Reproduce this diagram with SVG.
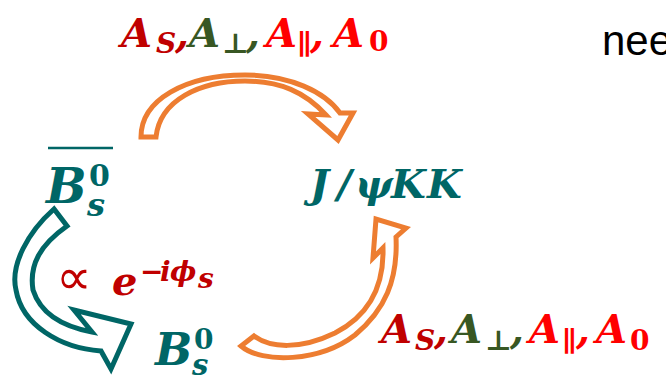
<svg xmlns="http://www.w3.org/2000/svg" width="666" height="382" viewBox="0 0 666 382">
<style>
.m{font-family:"DejaVu Serif","Liberation Serif",serif;font-weight:bold;font-style:italic}
.up{font-style:normal}
.teal{fill:#006666}
.dr{fill:#C00000}
.gr{fill:#385723}
.rd{fill:#FF0000}
.arr{fill:none;stroke-width:5;stroke-linejoin:miter;stroke-miterlimit:10}
.or{stroke:#ED7D31}
.tl{stroke:#006666}
</style>
<rect width="666" height="382" fill="#FFFFFF"/>
<g id="connectors">
<path id="arc-top" class="arr or" d="M141,137 C141,100 185,75 245,75 C290,75 325,92 340,113 L353,113 L338,140 L308,114 L326,115 C305,92 280,81 245,81 C200,81 160,100 156,137 Z"/>
<path id="arc-mix" class="arr tl" d="M54,209 C28,232 10,265 16,290 C22,325 60,348 101,351 L111,369 L131,324 L74,310 L92,332 C60,326 40,312 33,290 C29,265 40,245 67,226 Z"/>
<path id="arc-bottom" class="arr or" d="M241,346 C262,364 320,362 355,335 C385,310 398,280 396,237 L406,228 L376,219 L373,258 L383,248 C384,285 370,315 335,333 C300,350 270,348 254,336 Z"/>
</g>
<g id="label-top" class="m">
<text x="121" y="47" font-size="40" class="dr">A</text>
<text x="156" y="53" font-size="28" class="dr">S</text>
<text x="175" y="47" font-size="40" class="dr">,</text>
<text x="189" y="47" font-size="40" class="gr">A</text>
<text x="222" y="53" font-size="28" class="gr up">⊥</text>
<text x="246" y="47" font-size="40" class="gr">,</text>
<text x="266" y="47" font-size="40" class="rd">A</text>
<text x="297" y="54" font-size="28" class="rd up">∥</text>
<text x="310" y="47" font-size="40" class="rd">,</text>
<text x="333" y="47" font-size="40" class="rd">A</text>
<text x="369" y="51" font-size="28" class="rd up">0</text>
</g>
<g id="label-bottom" class="m">
<text x="381" y="343" font-size="40" class="dr">A</text>
<text x="415" y="350" font-size="28" class="dr">S</text>
<text x="434" y="343" font-size="40" class="dr">,</text>
<text x="451" y="343" font-size="40" class="gr">A</text>
<text x="485" y="350" font-size="28" class="gr up">⊥</text>
<text x="510" y="343" font-size="40" class="gr">,</text>
<text x="529" y="343" font-size="40" class="rd">A</text>
<text x="562" y="351" font-size="28" class="rd up">∥</text>
<text x="576" y="343" font-size="40" class="rd">,</text>
<text x="596" y="343" font-size="40" class="rd">A</text>
<text x="630" y="350" font-size="28" class="rd up">0</text>
</g>
<g id="node-need">
<text x="602" y="55" font-family="Liberation Sans, Arial, sans-serif" font-size="42" fill="#000000">nee</text>
</g>
<g id="node-bsbar" class="m teal">
<line x1="48" y1="148" x2="113" y2="148" stroke="#006666" stroke-width="2.5"/>
<text x="46" y="203" font-size="48">B</text>
<text x="89" y="186" font-size="30" class="up">0</text>
<text x="87" y="216" font-size="32">s</text>
</g>
<g id="node-jpsikk" class="m teal">
<text y="198" font-size="40"><tspan x="310">J</tspan><tspan x="337">/</tspan><tspan x="355">ψ</tspan><tspan x="391">K</tspan><tspan x="427">K</tspan></text>
</g>
<g id="node-bs" class="m teal">
<text x="155" y="365" font-size="44">B</text>
<text x="194" y="349" font-size="28" class="up">0</text>
<text x="192" y="375" font-size="29">s</text>
</g>
<g id="label-phase" class="dr">
<text x="56" y="294" font-family="DejaVu Sans, sans-serif" font-size="50">∝</text>
<text x="112" y="295" class="m" font-size="40">e</text>
<text y="281" class="m" font-size="28"><tspan x="140">−</tspan><tspan x="160">i</tspan><tspan x="170">ϕ</tspan></text>
<text x="198" y="288" class="m" font-size="28">s</text>
</g>
</svg>
